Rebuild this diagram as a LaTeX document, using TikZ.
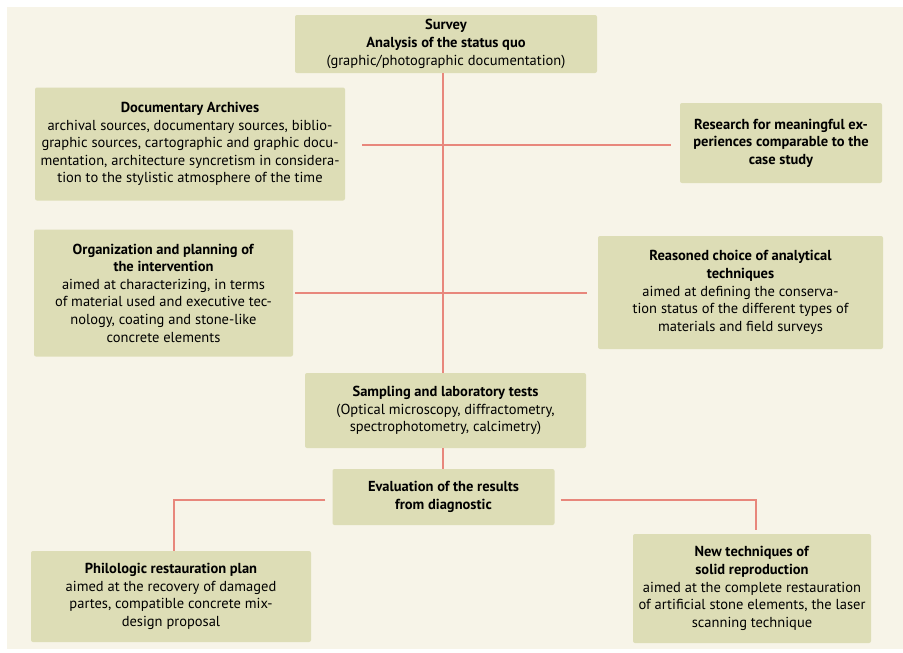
\documentclass[tikz,border=0pt]{standalone}
\usepackage{fontspec}
\setmainfont{PT Sans}
\usepackage{xcolor}
\usepackage{tikz}
\usetikzlibrary{positioning,calc}
\definecolor{cream}{HTML}{F7F4E8}
\definecolor{khaki}{HTML}{DDDDB6}
\definecolor{salmon}{HTML}{E8877C}

\begin{document}
\begin{tikzpicture}[x=1pt, y=-1pt,
  stage/.style={fill=khaki, rounded corners=2pt, inner sep=0pt, align=center, font=\fontsize{14.5}{17.6}\selectfont},
  link/.style={draw=salmon, line width=1.8pt}
]
  \useasboundingbox (0,0) rectangle (903,653);
  \fill[cream] (7,7) rectangle (903,649);
  \coordinate (spine) at (443,0);
  \node[stage, minimum width=302pt, minimum height=58pt] (survey) at (446,44) {\textbf{Survey}\\\textbf{Analysis of the status quo}\\(graphic/photographic documentation)};
  \node[stage, minimum width=310pt, minimum height=113pt] (docs) at (190,144) {\textbf{Documentary Archives}\\archival sources, documentary sources, biblio-\\graphic sources, cartographic and graphic docu-\\mentation, architecture syncretism in considera-\\tion to the stylistic atmosphere of the time};
  \node[stage, minimum width=202pt, minimum height=80pt] (research) at (781,143) {\textbf{Research for meaningful ex-}\\\textbf{periences comparable to the}\\\textbf{case study}};
  \node[stage, minimum width=259pt, minimum height=127pt] (org) at (163.5,293) {\textbf{Organization and planning of}\\\textbf{the intervention}\\aimed at characterizing, in terms\\of material used and executive tec-\\nology, coating and stone-like\\concrete elements};
  \node[stage, minimum width=285pt, minimum height=113pt] (choice) at (740.5,292.5) {\textbf{Reasoned choice of analytical}\\\textbf{techniques}\\aimed at defining the conserva-\\tion status of the different types of\\materials and field surveys};
  \node[stage, minimum width=281pt, minimum height=75pt] (samp) at (445.5,410.5) {\textbf{Sampling and laboratory tests}\\(Optical microscopy, diffractometry,\\spectrophotometry, calcimetry)};
  \node[stage, minimum width=222pt, minimum height=56pt] (eval) at (443.5,497) {\textbf{Evaluation of the results}\\\textbf{from diagnostic}};
  \node[stage, minimum width=280pt, minimum height=91pt] (philo) at (171,596.5) {\textbf{Philologic restauration plan}\\aimed at the recovery of damaged\\partes, compatible concrete mix-\\design proposal};
  \node[stage, minimum width=238pt, minimum height=109pt] (newtech) at (752,588.5) {\textbf{New techniques of}\\\textbf{solid reproduction}\\aimed at the complete restauration\\of artificial stone elements, the laser\\scanning technique};
  \draw[link] (survey.south -| spine) -- (samp.north -| spine);
  \draw[link] (samp.south -| spine) -- (eval.north -| spine);
  \draw[link, shorten <=17pt, shorten >=9pt] ($(docs.east)+(0,1)$) -- ($(docs.east -| research.west)+(0,1)$);
  \draw[link, shorten <=2pt, shorten >=11pt] (org.east) -- (org.east -| choice.west);
  \draw[link, shorten <=7pt] ($(eval.west)+(0,3)$) -- ($(eval.west -| philo.north)+(3,3)$) -- ($(philo.north)+(3,0)$);
  \draw[link, shorten <=6pt, shorten >=4pt] ($(eval.east)+(0,3)$) -- ($(eval.east -| newtech.north)+(4,3)$) -- ($(newtech.north)+(4,0)$);
\end{tikzpicture}
\end{document}
